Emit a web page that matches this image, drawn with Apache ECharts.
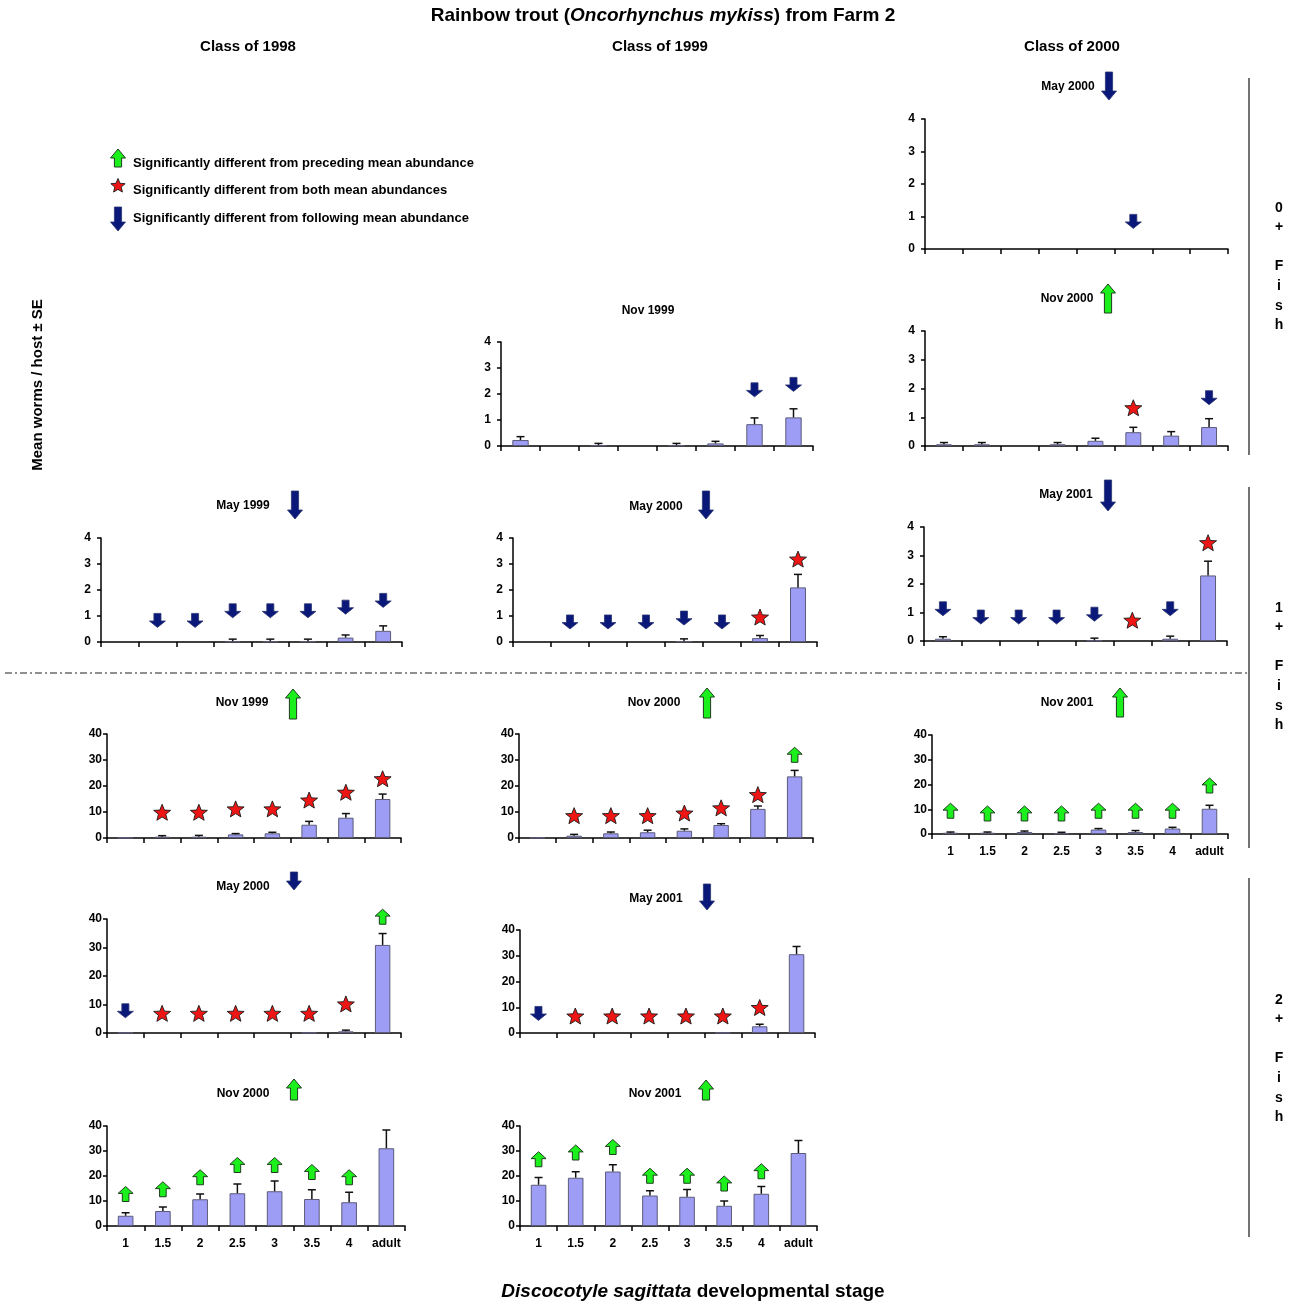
<!DOCTYPE html>
<html>
<head>
<meta charset="utf-8">
<title>Rainbow trout from Farm 2</title>
<script src="https://cdn.jsdelivr.net/npm/echarts@6/dist/echarts.min.js"></script>
<style>
  html, body { margin: 0; padding: 0; background: #fff; }
  #chart { width: 1298px; height: 1302px; }
</style>
</head>
<body>
<div id="chart"></div>
<script>
// developmental stages of Discocotyle sagittata
const stages = ['1', '1.5', '2', '2.5', '3', '3.5', '4', 'adult']

// significance codes: U = differs from preceding, S = differs from both, D = differs from following
// *Sig = code above each bar, *SigAt = height (worms/host) where the symbol sits

// Class of 1998
const c98May99Mean = [0, 0, 0, 0.03, 0.03, 0.03, 0.17, 0.43]
const c98May99Se = [0, 0, 0, 0.08, 0.08, 0.08, 0.1, 0.19]
const c98May99Sig = [null, 'D', 'D', 'D', 'D', 'D', 'D', 'D']
const c98May99SigAt = [null, 0.83, 0.83, 1.2, 1.2, 1.2, 1.34, 1.6]

const c98Nov99Mean = [0.1, 0.5, 0.5, 1.4, 1.8, 5.1, 7.8, 15]
const c98Nov99Se = [0, 0.4, 0.5, 0.3, 0.4, 1.3, 1.6, 1.9]
const c98Nov99Sig = [null, 'S', 'S', 'S', 'S', 'S', 'S', 'S']
const c98Nov99SigAt = [null, 9.9, 9.9, 11.2, 11.2, 14.6, 17.6, 22.8]

const c98May00Mean = [0.1, 0, 0, 0, 0, 0.1, 0.6, 30.9]
const c98May00Se = [0, 0, 0, 0, 0, 0, 0.4, 4]
const c98May00Sig = ['D', 'S', 'S', 'S', 'S', 'S', 'S', 'U']
const c98May00SigAt = [7.8, 6.9, 6.9, 6.9, 6.9, 6.9, 10.2, 40.8]

const c98Nov00Mean = [4.1, 6.0, 10.7, 13.1, 13.9, 10.8, 9.5, 31.1]
const c98Nov00Se = [1.2, 1.6, 2.1, 3.7, 4.1, 3.7, 4.0, 7.3]
const c98Nov00Sig = ['U', 'U', 'U', 'U', 'U', 'U', 'U', null]
const c98Nov00SigAt = [12.8, 14.7, 19.5, 24.4, 24.4, 21.6, 19.5, null]

// Class of 1999
const c99Nov99Mean = [0.23, 0, 0.03, 0, 0.03, 0.1, 0.84, 1.1]
const c99Nov99Se = [0.13, 0, 0.07, 0, 0.07, 0.08, 0.24, 0.33]
const c99Nov99Sig = [null, null, null, null, null, null, 'D', 'D']
const c99Nov99SigAt = [null, null, null, null, null, null, 2.16, 2.37]

const c99May00Mean = [0, 0, 0, 0, 0.03, 0, 0.15, 2.1]
const c99May00Se = [0, 0, 0, 0, 0.09, 0, 0.1, 0.5]
const c99May00Sig = [null, 'D', 'D', 'D', 'D', 'D', 'S', 'S']
const c99May00SigAt = [null, 0.77, 0.77, 0.77, 0.92, 0.77, 0.96, 3.19]

const c99Nov00Mean = [0.1, 0.9, 1.8, 2.2, 2.8, 5.0, 11.2, 23.7]
const c99Nov00Se = [0, 0.5, 0.5, 0.8, 0.7, 0.5, 1.1, 2.3]
const c99Nov00Sig = [null, 'S', 'S', 'S', 'S', 'S', 'S', 'U']
const c99Nov00SigAt = [null, 8.6, 8.6, 8.6, 9.6, 11.6, 16.7, 32]

const c99May01Mean = [0, 0, 0, 0, 0, 0.1, 2.6, 30.6]
const c99May01Se = [0, 0, 0, 0, 0, 0, 0.8, 3]
const c99May01Sig = ['D', 'S', 'S', 'S', 'S', 'S', 'S', null]
const c99May01SigAt = [7.6, 6.6, 6.6, 6.6, 6.6, 6.6, 9.9, null]

const c99Nov01Mean = [16.5, 19.3, 21.8, 12.2, 11.7, 8.1, 12.9, 29.2]
const c99Nov01Se = [2.9, 2.4, 2.7, 1.9, 2.9, 1.9, 2.9, 5.0]
const c99Nov01Sig = ['U', 'U', 'U', 'U', 'U', 'U', 'U', null]
const c99Nov01SigAt = [26.7, 29.4, 31.6, 20.1, 20.1, 17, 21.9, null]

// Class of 2000
const c00May00Mean = [0, 0, 0, 0, 0, 0, 0, 0]
const c00May00Se = [0, 0, 0, 0, 0, 0, 0, 0]
const c00May00Sig = [null, null, null, null, null, 'D', null, null]
const c00May00SigAt = [null, null, null, null, null, 0.85, null, null]

const c00Nov00Mean = [0.06, 0.06, 0, 0.06, 0.18, 0.48, 0.36, 0.66]
const c00Nov00Se = [0.06, 0.06, 0, 0.06, 0.09, 0.17, 0.14, 0.29]
const c00Nov00Sig = [null, null, null, null, null, 'S', null, 'D']
const c00Nov00SigAt = [null, null, null, null, null, 1.33, null, 1.68]

const c00May01Mean = [0.08, 0, 0, 0, 0.02, 0, 0.08, 2.3]
const c00May01Se = [0.07, 0, 0, 0, 0.08, 0, 0.09, 0.5]
const c00May01Sig = ['D', 'D', 'D', 'D', 'D', 'S', 'D', 'S']
const c00May01SigAt = [1.13, 0.84, 0.84, 0.84, 0.94, 0.73, 1.13, 3.45]

const c00Nov01Mean = [0.5, 0.5, 0.8, 0.3, 1.8, 0.8, 2.2, 10.2]
const c00Nov01Se = [0.3, 0.3, 0.4, 0.4, 0.4, 0.6, 0.5, 1.4]
const c00Nov01Sig = ['U', 'U', 'U', 'U', 'U', 'U', 'U', 'U']
const c00Nov01SigAt = [9.4, 8.3, 8.3, 8.3, 9.4, 9.4, 9.4, 19.6]

// whole-sample trend shown next to each panel title (same order as panels below)
const sampleTrend = ['D', 'U', 'D', 'U', null, 'D', 'U', 'D', 'U', 'D', 'U', 'D', 'U']

const FONT = '"Liberation Sans", Arial, sans-serif'
const NAVY = '#0a187a'
const GREEN = '#1cf01c'
const RED = '#ee1515'

// panel layout: grid box in px + where its title sits
const panels = [
  { name: 'May 1999', mean: c98May99Mean, se: c98May99Se, sig: c98May99Sig, sigAt: c98May99SigAt, max: 4,
    box: [101, 538, 301, 104], tx: 243, ty: 506, ax: 295, at: 491, ab: 519 },
  { name: 'Nov 1999', mean: c98Nov99Mean, se: c98Nov99Se, sig: c98Nov99Sig, sigAt: c98Nov99SigAt, max: 40,
    box: [107, 734, 294, 104], tx: 242, ty: 703, ax: 293, at: 689, ab: 719 },
  { name: 'May 2000', mean: c98May00Mean, se: c98May00Se, sig: c98May00Sig, sigAt: c98May00SigAt, max: 40,
    box: [107, 919, 294, 114], tx: 243, ty: 887, ax: 294, at: 872, ab: 890 },
  { name: 'Nov 2000', mean: c98Nov00Mean, se: c98Nov00Se, sig: c98Nov00Sig, sigAt: c98Nov00SigAt, max: 40,
    box: [107, 1126, 298, 100], tx: 243, ty: 1094, ax: 294, at: 1079, ab: 1100, labels: true },
  { name: 'Nov 1999', mean: c99Nov99Mean, se: c99Nov99Se, sig: c99Nov99Sig, sigAt: c99Nov99SigAt, max: 4,
    box: [501, 342, 312, 104], tx: 648, ty: 311 },
  { name: 'May 2000', mean: c99May00Mean, se: c99May00Se, sig: c99May00Sig, sigAt: c99May00SigAt, max: 4,
    box: [513, 538, 304, 104], tx: 656, ty: 507, ax: 706, at: 491, ab: 519 },
  { name: 'Nov 2000', mean: c99Nov00Mean, se: c99Nov00Se, sig: c99Nov00Sig, sigAt: c99Nov00SigAt, max: 40,
    box: [519, 734, 294, 104], tx: 654, ty: 703, ax: 707, at: 688, ab: 718 },
  { name: 'May 2001', mean: c99May01Mean, se: c99May01Se, sig: c99May01Sig, sigAt: c99May01SigAt, max: 40,
    box: [520, 930, 295, 103], tx: 656, ty: 899, ax: 707, at: 884, ab: 910 },
  { name: 'Nov 2001', mean: c99Nov01Mean, se: c99Nov01Se, sig: c99Nov01Sig, sigAt: c99Nov01SigAt, max: 40,
    box: [520, 1126, 297, 100], tx: 655, ty: 1094, ax: 706, at: 1080, ab: 1100, labels: true },
  { name: 'May 2000', mean: c00May00Mean, se: c00May00Se, sig: c00May00Sig, sigAt: c00May00SigAt, max: 4,
    box: [925, 119, 303, 130], tx: 1068, ty: 87, ax: 1109, at: 72, ab: 100 },
  { name: 'Nov 2000', mean: c00Nov00Mean, se: c00Nov00Se, sig: c00Nov00Sig, sigAt: c00Nov00SigAt, max: 4,
    box: [925, 331, 303, 115], tx: 1067, ty: 299, ax: 1108, at: 284, ab: 313 },
  { name: 'May 2001', mean: c00May01Mean, se: c00May01Se, sig: c00May01Sig, sigAt: c00May01SigAt, max: 4,
    box: [924, 527, 303, 114], tx: 1066, ty: 495, ax: 1108, at: 480, ab: 511 },
  { name: 'Nov 2001', mean: c00Nov01Mean, se: c00Nov01Se, sig: c00Nov01Sig, sigAt: c00Nov01SigAt, max: 40,
    box: [932, 735, 296, 99], tx: 1067, ty: 703, ax: 1120, at: 688, ab: 717, labels: true }
]

const symbolPath = {
  D: 'path://M2.8,0L7.2,0L7.2,5.4L10,5.4L5,10L0,5.4L2.8,5.4Z',
  U: 'path://M5,0L10,4.6L7.2,4.6L7.2,10L2.8,10L2.8,4.6L0,4.6Z',
  S: 'path://M5,0L6.3,3.3L9.76,3.45L7.05,5.6L7.94,9.05L5,7.2L2.06,9.05L2.95,5.6L0.24,3.45L3.7,3.3Z'
}
const symbolSize = { D: [16, 14], U: [15, 15], S: [17, 16] }
const symbolStyle = {
  D: { color: NAVY, borderColor: '#2a3570', borderWidth: 0.8, opacity: 1 },
  U: { color: GREEN, borderColor: '#1d3d1d', borderWidth: 1, opacity: 1 },
  S: { color: RED, borderColor: '#1a1a1a', borderWidth: 0.9, opacity: 1 }
}

// tall arrow polygon used next to the titles and in the key
const arrowPoints = (cx, t, b, dir) => {
  const hw = 7.5
  const bw = 3.6
  const hh = 9
  if (dir === 'D') {
    return [[cx - bw, t], [cx + bw, t], [cx + bw, b - hh], [cx + hw, b - hh], [cx, b], [cx - hw, b - hh], [cx - bw, b - hh]]
  }
  return [[cx, t], [cx + hw, t + hh], [cx + bw, t + hh], [cx + bw, b], [cx - bw, b], [cx - bw, t + hh], [cx - hw, t + hh]]
}
const arrowGraphic = (cx, t, b, dir) => ({
  type: 'polygon',
  shape: { points: arrowPoints(cx, t, b, dir) },
  style: dir === 'D'
    ? { fill: NAVY, stroke: '#2a3570', lineWidth: 0.8 }
    : { fill: GREEN, stroke: '#1d3d1d', lineWidth: 1 },
  z: 10
})
const starPoints = (cx, cy, r) => {
  const pts = []
  for (let j = 0; j < 10; j++) {
    const a = -Math.PI / 2 + j * Math.PI / 5
    const rr = j % 2 === 0 ? r : r * 0.45
    pts.push([cx + rr * Math.cos(a), cy + rr * Math.sin(a)])
  }
  return pts
}

const errorBarItem = (params, api) => {
  const i = api.value(0)
  const m = api.value(1)
  const se = api.value(2)
  const base = api.coord([i, m])
  const top = api.coord([i, m + se])
  const st = { stroke: '#111', lineWidth: 1.5 }
  return {
    type: 'group',
    children: [
      { type: 'line', shape: { x1: base[0], y1: base[1], x2: top[0], y2: top[1] }, style: st },
      { type: 'line', shape: { x1: top[0] - 4, y1: top[1], x2: top[0] + 4, y2: top[1] }, style: st }
    ]
  }
}

const grid = []
const xAxis = []
const yAxis = []
const series = []
const graphic = []

panels.forEach((p, k) => {
  grid.push({ left: p.box[0], top: p.box[1], width: p.box[2], height: p.box[3], containLabel: false, outerBoundsMode: 'none' })
  xAxis.push({
    type: 'category',
    gridIndex: k,
    data: stages,
    boundaryGap: true,
    axisLine: { show: true, onZero: false, lineStyle: { color: '#000', width: 1.5 } },
    axisTick: { show: true, interval: 0, length: 5, lineStyle: { color: '#000', width: 1.5 } },
    axisLabel: { show: !!p.labels, interval: 0, color: '#000', fontFamily: FONT, fontWeight: 'bold', fontSize: 12, margin: 12 },
    splitLine: { show: false }
  })
  yAxis.push({
    type: 'value',
    gridIndex: k,
    min: 0,
    max: p.max,
    interval: p.max / 4,
    axisLine: { show: true, lineStyle: { color: '#000', width: 1.5 } },
    axisTick: { show: true, length: 4, lineStyle: { color: '#000', width: 1.5 } },
    axisLabel: { color: '#000', fontFamily: FONT, fontWeight: 'bold', fontSize: 12, margin: p.max === 4 ? 10 : 5 },
    splitLine: { show: false }
  })
  series.push({
    type: 'bar',
    xAxisIndex: k,
    yAxisIndex: k,
    barWidth: '42%',
    data: p.mean.map((v) => (v > 0 ? v : null)),
    itemStyle: { color: '#9d9df6', borderColor: '#5c5c7a', borderWidth: 1 },
    silent: true,
    z: 2
  })
  series.push({
    type: 'custom',
    xAxisIndex: k,
    yAxisIndex: k,
    renderItem: errorBarItem,
    data: p.mean.map((v, i) => [i, v, p.se[i]]).filter((d) => d[2] > 0),
    silent: true,
    z: 3
  })
  series.push({
    type: 'scatter',
    xAxisIndex: k,
    yAxisIndex: k,
    clip: false,
    silent: true,
    z: 4,
    itemStyle: { opacity: 1 },
    data: p.sig
      .map((c, i) => (c ? {
        value: [i, p.sigAt[i]],
        symbol: symbolPath[c],
        symbolSize: symbolSize[c],
        itemStyle: symbolStyle[c]
      } : null))
      .filter((d) => d)
  })
  graphic.push({
    type: 'text',
    x: p.tx,
    y: p.ty,
    style: { text: p.name, font: `bold 12px ${FONT}`, fill: '#000', align: 'center', verticalAlign: 'middle' }
  })
  if (sampleTrend[k]) graphic.push(arrowGraphic(p.ax, p.at, p.ab, sampleTrend[k]))
})

// headings
graphic.push({
  type: 'text',
  x: 663,
  y: 16,
  style: {
    text: '{b|Rainbow trout (}{i|Oncorhynchus mykiss}{b|) from Farm 2}',
    align: 'center',
    verticalAlign: 'middle',
    rich: {
      b: { fontFamily: FONT, fontWeight: 'bold', fontSize: 19, fill: '#000' },
      i: { fontFamily: FONT, fontWeight: 'bold', fontStyle: 'italic', fontSize: 19, fill: '#000' }
    }
  }
})
;[['Class of 1998', 248], ['Class of 1999', 660], ['Class of 2000', 1072]].forEach(([t, x]) => {
  graphic.push({ type: 'text', x: x, y: 47, style: { text: t, font: `bold 15px ${FONT}`, fill: '#000', align: 'center', verticalAlign: 'middle' } })
})
graphic.push({
  type: 'text',
  x: 693,
  y: 1292,
  style: {
    text: '{i|Discocotyle sagittata}{b| developmental stage}',
    align: 'center',
    verticalAlign: 'middle',
    rich: {
      b: { fontFamily: FONT, fontWeight: 'bold', fontSize: 19, fill: '#000' },
      i: { fontFamily: FONT, fontWeight: 'bold', fontStyle: 'italic', fontSize: 19, fill: '#000' }
    }
  }
})
graphic.push({
  type: 'text',
  x: 38,
  y: 385,
  rotation: Math.PI / 2,
  style: { text: 'Mean worms / host ± SE', font: `bold 15px ${FONT}`, fill: '#000', align: 'center', verticalAlign: 'middle' }
})

// key
graphic.push(arrowGraphic(118, 149, 167, 'U'))
graphic.push({
  type: 'polygon',
  shape: { points: starPoints(118, 186, 7.5) },
  style: { fill: RED, stroke: '#1a1a1a', lineWidth: 0.9 }
})
graphic.push(arrowGraphic(118, 207, 231, 'D'))
;[['Significantly different from preceding mean abundance', 163],
  ['Significantly different from both mean abundances', 190],
  ['Significantly different from following mean abundance', 218]].forEach(([t, y]) => {
  graphic.push({ type: 'text', x: 133, y: y, style: { text: t, font: `bold 13px ${FONT}`, fill: '#000', align: 'left', verticalAlign: 'middle' } })
})

// separator between 1+ and 2+ samples
graphic.push({
  type: 'line',
  shape: { x1: 5, y1: 673, x2: 1250, y2: 673 },
  style: { stroke: '#222', lineWidth: 1.2, lineDash: [7, 3, 2, 3] }
})

// age-group brackets on the right
;[[78, 455, 208, '0'], [487, 848, 608, '1'], [878, 1237, 1000, '2']].forEach(([t, b, ly, age]) => {
  graphic.push({ type: 'line', shape: { x1: 1249, y1: t, x2: 1249, y2: b }, style: { stroke: '#444', lineWidth: 1.5 } })
  graphic.push({
    type: 'text',
    x: 1279,
    y: ly - 10,
    style: { text: `${age}\n+\n\nF\ni\ns\nh`, font: `bold 14px ${FONT}`, lineHeight: 19.6, fill: '#000', align: 'center', verticalAlign: 'top' }
  })
})

const myEcharts = echarts.init(document.getElementById('chart'))
myEcharts.setOption({
  backgroundColor: '#fff',
  animation: false,
  grid,
  xAxis,
  yAxis,
  series,
  graphic
})
</script>
</body>
</html>
